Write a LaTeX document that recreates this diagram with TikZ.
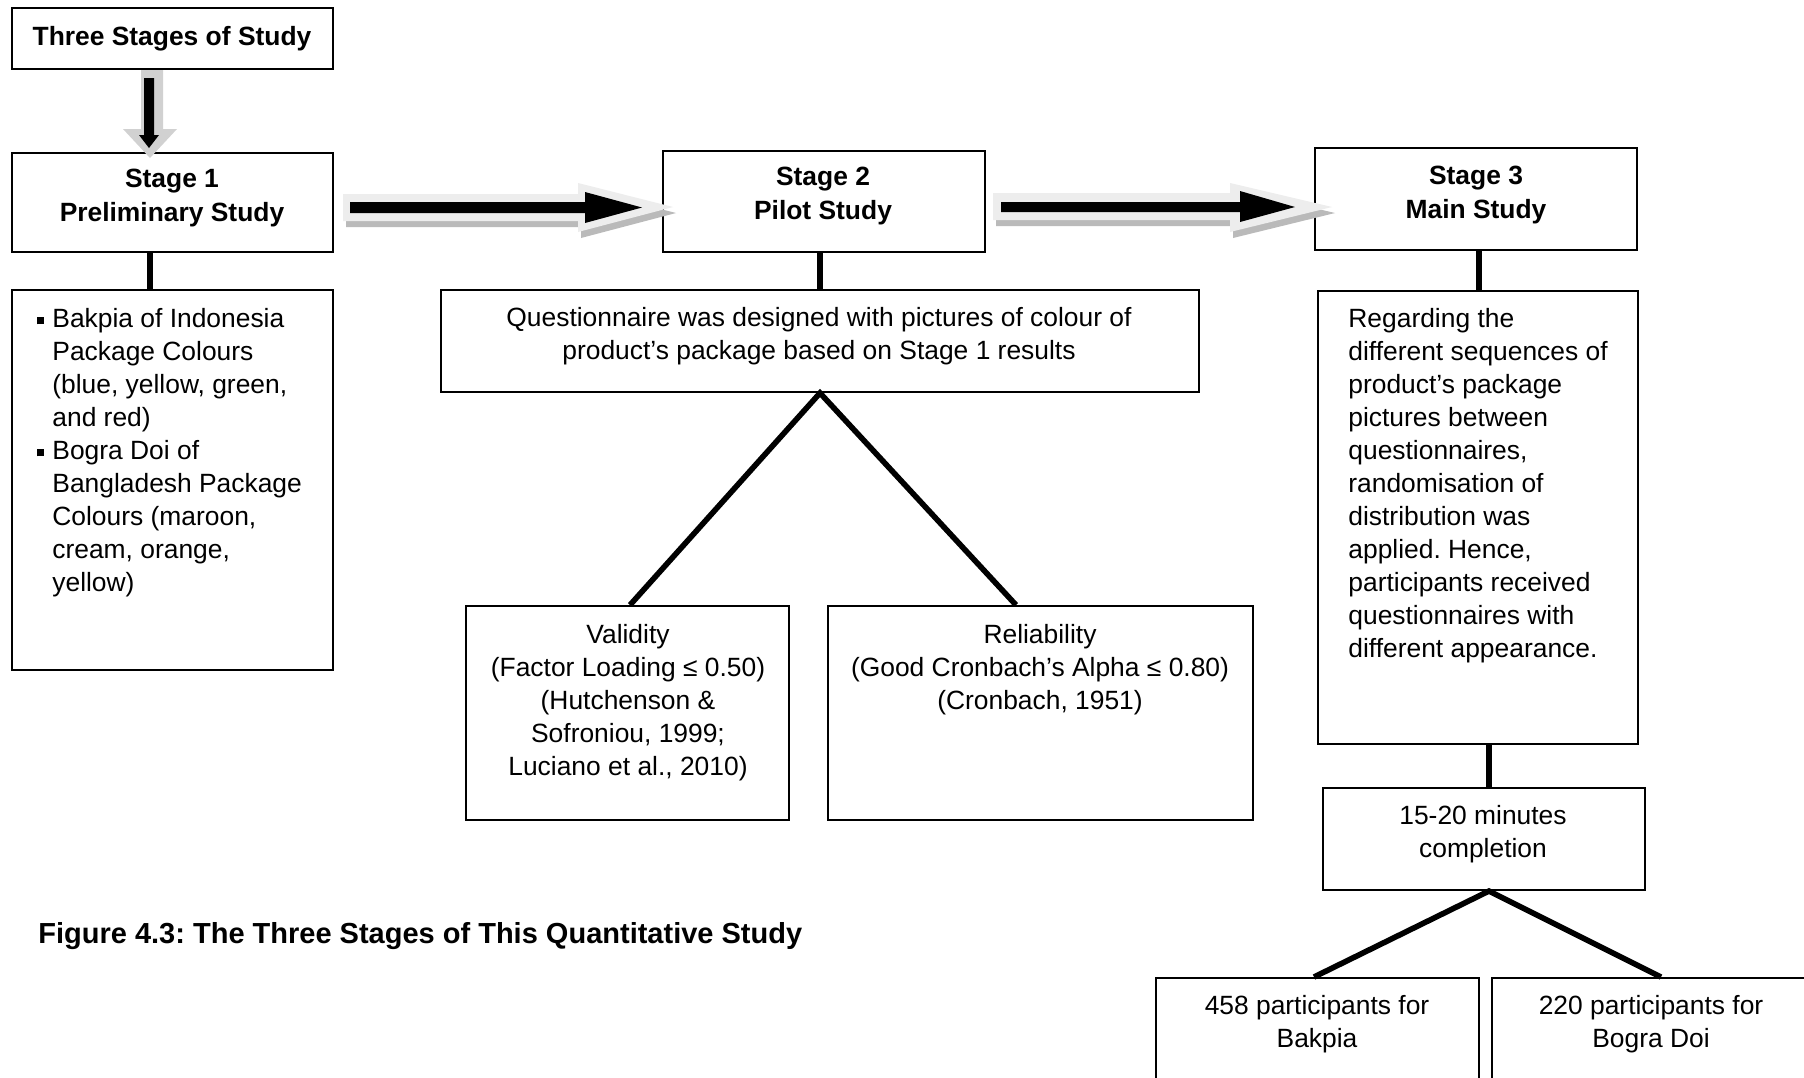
\documentclass[tikz,border=0pt]{standalone}
\usepackage{fontspec}
\setmainfont{Liberation Sans}
\usetikzlibrary{fit}
\newcommand{\mybul}{\llap{\rule[1.6pt]{3.6pt}{3.6pt}\hspace{4.2pt}}}
\begin{document}
\frenchspacing
\begin{tikzpicture}[x=0.5pt,y=-0.5pt,
  box/.style={draw=black, line width=1pt, inner sep=0pt},
  conn/.style={line width=2.8pt},
  txt/.style={inner sep=0pt, anchor=north, font=\fontsize{13.2}{16.6}\selectfont, align=center},
  btxt/.style={inner sep=0pt, anchor=north, font=\fontsize{13.2}{17.2}\selectfont\bfseries, align=center},
  ltxt/.style={inner sep=0pt, anchor=north west, font=\fontsize{13.2}{16.5}\selectfont, align=left},
  arrlight/.style={fill=black!7, draw=none},
  arrshadow/.style={fill=black!27, draw=none},
  arrdark/.style={fill=black, draw=none}
]
\useasboundingbox (0,0) rectangle (1804,1077);
\clip (0,0) rectangle (1804,1077);
\fill[white] (0,0) rectangle (1804,1077);

% boxes
\node[box, fit={(12,8) (333,69)}] (title) {};
\node[box, fit={(12,153) (333,252)}] (s1) {};
\node[box, fit={(663,151) (985,252)}] (s2) {};
\node[box, fit={(1315,148) (1637,250)}] (s3) {};
\node[box, fit={(12,290) (333,670)}] (b1) {};
\node[box, fit={(441,290) (1199,392)}] (q) {};
\node[box, fit={(466,606) (789,820)}] (val) {};
\node[box, fit={(828,606) (1253,820)}] (rel) {};
\node[box, fit={(1318,291) (1638,744)}] (t3) {};
\node[box, fit={(1323,788) (1645,890)}] (m) {};
\node[box, fit={(1156,978) (1479,1110)}] (bk) {};
\node[box, fit={(1492,978) (1815,1110)}] (bg) {};

% texts
\node[btxt] (titlet) at (172,25.5) {Three Stages of Study};
\node[btxt] (s1t) at (172,168.5) {Stage 1\\Preliminary Study};
\node[btxt] (s2t) at (823,166.5) {Stage 2\\Pilot Study};
\node[btxt] (s3t) at (1476,165.5) {Stage 3\\Main Study};
\node[ltxt] (b1t) at (52,308) {\mybul Bakpia of Indonesia\\Package Colours\\(blue, yellow, green,\\and red)\\\mybul Bogra Doi of\\Bangladesh Package\\Colours (maroon,\\cream, orange,\\yellow)};
\node[txt] (qt) at (819,306.5) {Questionnaire was designed with pictures of colour of\\product’s package based on Stage 1 results};
\node[txt] (valt) at (628,623.5) {Validity\\(Factor Loading ≤ 0.50)\\(Hutchenson \&\\Sofroniou, 1999;\\Luciano et al., 2010)};
\node[txt] (relt) at (1040,623.5) {Reliability\\(Good Cronbach’s Alpha ≤ 0.80)\\(Cronbach, 1951)};
\node[ltxt] (t3t) at (1348,308) {Regarding the\\different sequences of\\product’s package\\pictures between\\questionnaires,\\randomisation of\\distribution was\\applied. Hence,\\participants received\\questionnaires with\\different appearance.};
\node[txt] (mt) at (1483,805) {15-20 minutes\\completion};
\node[txt] (bkt) at (1317,994.5) {458 participants for\\Bakpia};
\node[txt] (bgt) at (1651,994.5) {220 participants for\\Bogra Doi};
\node[inner sep=0pt, anchor=north west, font=\fontsize{14.5}{17}\selectfont\bfseries] (cap) at (38,922) {Figure 4.3: The Three Stages of This Quantitative Study};

% connector x positions
\coordinate (x1) at (150,0);
\coordinate (x2) at (820,0);
\coordinate (x3) at (1479,0);
\coordinate (x4) at (1489,0);
\coordinate (xr) at (1016,0);
\coordinate (xv) at (630,0);
\coordinate (xbk) at (1314,0);
\coordinate (xbg) at (1661,0);

\draw[conn] (s1.south -| x1) -- (b1.north -| x1);
\draw[conn] (s2.south -| x2) -- (q.north -| x2);
\draw[conn] (s3.south -| x3) -- (t3.north -| x3);
\draw[conn] (t3.south -| x4) -- (m.north -| x4);
\draw[conn, line join=miter] (val.north -| xv) -- (q.south -| x2) -- (rel.north -| xr);
\draw[conn, line join=miter] (bk.north -| xbk) -- (m.south -| x4) -- (bg.north -| xbg);

% down arrow (title -> stage 1)
\fill[black!18] (141,70) -- (163,70) -- (163,129) -- (177,129) -- (150,158) -- (123,129) -- (141,129) -- cycle;
\fill[arrdark] (144,78) -- (154,78) -- (154,135) -- (159,135) -- (149,148) -- (139,135) -- (144,135) -- cycle;

% right arrow 1 (stage 1 -> stage 2)
\fill[arrshadow] (346,200) -- (581,200) -- (581,189) -- (676,213) -- (581,238) -- (581,227) -- (346,227) -- cycle;
\fill[arrlight] (343,194) -- (578,194) -- (578,183) -- (673,207) -- (578,232) -- (578,221) -- (343,221) -- cycle;
\fill[arrdark] (350,202) -- (585,202) -- (585,192) -- (642,207.5) -- (585,223) -- (585,213) -- (350,213) -- cycle;

% right arrow 2 (stage 2 -> stage 3)
\fill[arrshadow] (996,199) -- (1233,199) -- (1233,189) -- (1335,213) -- (1233,238) -- (1233,226) -- (996,226) -- cycle;
\fill[arrlight] (993,193) -- (1230,193) -- (1230,183) -- (1332,207) -- (1230,232) -- (1230,220) -- (993,220) -- cycle;
\fill[arrdark] (1001,202) -- (1240,202) -- (1240,191) -- (1295,207) -- (1240,222) -- (1240,212) -- (1001,212) -- cycle;
\end{tikzpicture}
\end{document}
